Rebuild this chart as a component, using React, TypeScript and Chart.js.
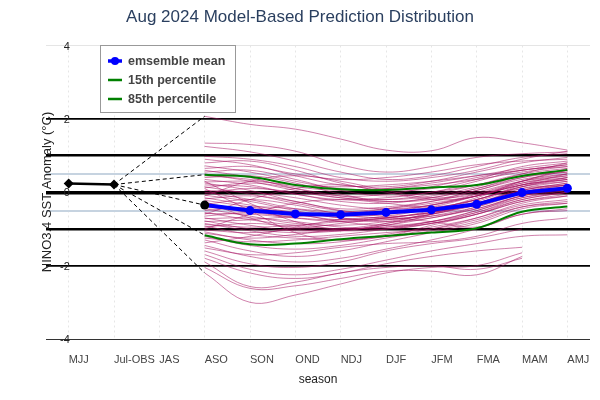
import React, { useEffect, useRef } from "react";
import { Chart, registerables } from "chart.js";

Chart.register(...registerables);

const FONT = "'Liberation Sans', Arial, Helvetica, sans-serif";

const TITLE = "Aug 2024 Model-Based Prediction Distribution";
const X_TITLE = "season";
const Y_TITLE = "NINO3.4 SST Anomaly (°C)";

const seasons = ["MJJ", "Jul-OBS", "JAS", "ASO", "SON", "OND", "NDJ", "DJF", "JFM", "FMA", "MAM", "AMJ"];
const FORECAST_START = 3; // index of ASO in seasons
const OBS_LAST = 1; // index of Jul-OBS

const observed = [0.24, 0.21];
const ensembleMean = [-0.35, -0.5, -0.59, -0.61, -0.55, -0.48, -0.33, -0.01, 0.11];
const pct15 = [-1.17, -1.42, -1.4, -1.28, -1.19, -1.1, -0.98, -0.53, -0.39];
const pct85 = [0.48, 0.42, 0.2, 0.08, 0.06, 0.13, 0.2, 0.44, 0.61];

const yTickLabels = [4, 2, 0, -2, -4];
const blackRefLines = [2, 1, 0, -1, -2];
const lightRefLines = [0.5, -0.5];

// ensemble members: ASO, SON, OND, NDJ, DJF, JFM, FMA, MAM, AMJ
const members: (number | null)[][] = [
  [2.07, 1.85, 1.72, 1.45, 1.15, 1.13, 1.49, 1.35, 1.15],
  [1.34, 1.3, 1.12, 0.75, 0.55, 0.7, 0.95, 1.05, 1.1],
  [1.25, 1.1, 0.85, 0.55, 0.35, 0.45, 0.7, 0.95, 1.05],
  [0.98, 0.9, 0.7, 0.4, 0.3, 0.4, 0.6, 0.9, 1.12],
  [0.9, 0.75, 0.45, 0.2, 0.15, 0.3, 0.55, 0.8, 0.95],
  [0.8, 0.85, 0.6, 0.25, 0.05, 0.1, 0.35, 0.7, 0.85],
  [0.72, 0.55, 0.3, 0.1, 0.1, 0.25, 0.45, 0.65, 0.8],
  [0.65, 0.7, 0.5, 0.35, 0.4, 0.55, 0.75, 0.85, 0.9],
  [0.6, 0.4, 0.1, -0.1, -0.05, 0.15, 0.4, 0.6, 0.75],
  [0.55, 0.6, 0.35, 0.05, -0.1, 0.0, 0.3, 0.6, 0.7],
  [0.5, 0.3, 0.05, -0.15, -0.2, -0.05, 0.2, 0.5, 0.65],
  [0.45, 0.35, 0.15, 0.05, 0.1, 0.2, 0.35, 0.55, 0.7],
  [0.4, 0.45, 0.25, -0.05, -0.25, -0.15, 0.1, 0.45, 0.6],
  [0.35, 0.2, -0.05, -0.2, -0.15, 0.0, 0.2, 0.45, 0.55],
  [0.3, -0.3, -0.8, -1.0, -0.9, -0.6, -0.2, 0.1, 0.2],
  [0.28, 0.3, 0.2, 0.15, 0.2, 0.3, 0.45, 0.6, 0.75],
  [0.25, 0.05, -0.25, -0.45, -0.4, -0.25, 0.0, 0.3, 0.45],
  [0.2, 0.15, -0.05, -0.25, -0.3, -0.15, 0.1, 0.4, 0.55],
  [0.15, -0.05, -0.3, -0.5, -0.55, -0.4, -0.1, 0.25, 0.4],
  [0.12, 0.25, 0.1, -0.1, -0.2, -0.1, 0.15, 0.5, 0.8],
  [0.1, -0.5, -1.1, -1.3, -1.2, -0.9, -0.6, -0.2, 0.0],
  [0.05, 0.0, -0.15, -0.35, -0.45, -0.35, -0.1, 0.2, 0.35],
  [0.0, -0.2, -0.45, -0.6, -0.55, -0.35, -0.05, 0.3, 0.5],
  [-0.03, 0.1, 0.0, -0.15, -0.25, -0.2, 0.05, 0.4, 0.6],
  [-0.08, -0.25, -0.5, -0.7, -0.75, -0.6, -0.3, 0.05, 0.2],
  [-0.1, 0.3, 0.45, 0.3, 0.05, -0.15, -0.05, 0.3, 0.65],
  [-0.15, -0.35, -0.55, -0.65, -0.6, -0.45, -0.2, 0.15, 0.35],
  [-0.18, -0.1, -0.25, -0.5, -0.65, -0.55, -0.3, 0.05, 0.25],
  [-0.22, -0.4, -0.6, -0.75, -0.7, -0.5, -0.15, 0.25, 0.45],
  [-0.25, -0.7, -1.0, -1.05, -0.85, -0.55, -0.25, 0.15, 0.4],
  [-0.3, -0.5, -0.7, -0.8, -0.75, -0.6, -0.35, 0.0, 0.15],
  [-0.33, -0.2, -0.35, -0.6, -0.7, -0.65, -0.45, -0.1, 0.1],
  [-0.38, -0.55, -0.65, -0.6, -0.45, -0.25, 0.05, 0.35, 0.5],
  [-0.42, -0.45, -0.55, -0.7, -0.8, -0.7, -0.4, 0.0, 0.2],
  [-0.45, -0.65, -0.85, -0.9, -0.8, -0.6, -0.3, 0.1, 0.3],
  [-0.5, -0.4, -0.45, -0.55, -0.5, -0.35, -0.1, 0.2, 0.35],
  [-0.55, -0.75, -0.9, -1.0, -0.95, -0.8, -0.5, -0.1, 0.1],
  [-0.58, -0.6, -0.7, -0.75, -0.65, -0.45, -0.2, 0.15, 0.3],
  [-0.6, -0.2, 0.1, 0.2, 0.0, -0.2, -0.1, 0.3, 0.6],
  [-0.65, -0.55, -0.6, -0.8, -0.9, -0.8, -0.55, -0.2, 0.0],
  [-0.7, -0.9, -1.05, -1.0, -0.85, -0.65, -0.4, -0.05, 0.15],
  [-0.72, -0.7, -0.8, -0.95, -1.0, -0.85, -0.55, -0.15, 0.05],
  [-0.78, -1.0, -1.1, -1.05, -0.9, -0.7, -0.45, -0.1, 0.05],
  [-0.8, -0.75, -0.65, -0.55, -0.45, -0.3, -0.1, 0.2, 0.4],
  [-0.85, -1.05, -1.2, -1.15, -1.0, -0.8, -0.5, -0.15, 0.0],
  [-0.88, -0.95, -0.9, -0.8, -0.7, -0.55, -0.35, 0.0, 0.2],
  [-0.92, -1.15, -1.25, -1.3, -1.2, -1.0, -0.7, -0.3, -0.1],
  [-0.95, -0.85, -0.95, -1.05, -1.0, -0.85, -0.6, -0.25, -0.05],
  [-1.0, -0.6, -0.3, -0.2, -0.3, -0.4, -0.2, 0.2, 0.5],
  [-1.03, -1.1, -1.0, -0.85, -0.7, -0.55, -0.3, 0.05, 0.25],
  [-1.08, -1.3, -1.4, -1.35, -1.15, -0.95, -0.7, -0.35, -0.2],
  [-1.12, -1.25, -1.15, -1.0, -0.95, -0.85, -0.6, -0.25, -0.1],
  [-1.2, -1.45, -1.55, -1.45, -1.25, -1.05, -0.8, -0.4, -0.25],
  [-1.25, -1.35, -1.3, -1.2, -1.1, -1.0, -0.75, -0.4, -0.3],
  [-1.3, -1.6, -1.75, -1.6, -1.35, -1.1, -0.85, -0.45, -0.3],
  [-1.38, -1.2, -0.95, -0.75, -0.7, -0.8, -0.95, -0.6, -0.45],
  [-1.45, -1.75, -1.9, -1.8, -1.55, -1.3, -1.0, -0.6, -0.5],
  [-1.52, -1.7, -1.65, -1.5, -1.4, -1.35, -1.2, -0.85, -0.7],
  [-1.6, -1.95, -2.05, -1.9, -1.6, -1.4, -1.25, -1.0, null],
  [-1.7, -2.1, -2.25, -2.1, -1.85, -1.6, -1.4, -1.2, -1.16],
  [-1.8, -2.2, -2.35, -2.2, -1.95, -1.75, -1.6, -1.5, null],
  [-1.9, -2.57, -2.45, -2.2, -2.05, -2.0, -2.1, -1.8, null],
  [-2.05, -2.62, -2.55, -2.35, -2.15, -2.15, -2.25, -1.75, null],
  [-2.2, -3.0, -2.8, -2.5, -2.2, -2.05, -2.0, -1.65, null],
];

const pad = (vals: (number | null)[]) => {
  const arr: (number | null)[] = seasons.map(() => null);
  vals.forEach((v, i) => (arr[FORECAST_START + i] = v));
  return arr;
};

const asoValues = members.map((m) => m[0] as number);
const connectorTargets = [Math.max(...asoValues), pct85[0], ensembleMean[0], pct15[0], Math.min(...asoValues)];

const MEMBER_COLOR = "rgba(165, 15, 95, 0.52)";

function buildDatasets() {
  const ds: any[] = [];
  ds.push({
    label: "emsemble mean",
    data: pad(ensembleMean),
    borderColor: "#0000ff",
    backgroundColor: "#0000ff",
    borderWidth: 4,
    pointRadius: 4.5,
    pointBackgroundColor: seasons.map((_, i) => (i === FORECAST_START ? "#000000" : "#0000ff")),
    pointBorderColor: seasons.map((_, i) => (i === FORECAST_START ? "#000000" : "#0000ff")),
    pointBorderWidth: 0,
    tension: 0,
  });
  ds.push({ label: "15th percentile", data: pad(pct15), borderColor: "#008000", borderWidth: 2, pointRadius: 0, tension: 0.4 });
  ds.push({ label: "85th percentile", data: pad(pct85), borderColor: "#008000", borderWidth: 2, pointRadius: 0, tension: 0.4 });
  ds.push({
    label: "observed",
    data: seasons.map((_, i) => (i < observed.length ? observed[i] : null)),
    borderColor: "#000000",
    backgroundColor: "#000000",
    borderWidth: 2.5,
    pointStyle: "rectRot",
    pointRadius: 5,
    pointBorderWidth: 0,
    tension: 0,
  });
  connectorTargets.forEach((t, k) => {
    const data = seasons.map((_, i) => (i === OBS_LAST ? observed[OBS_LAST] : i === FORECAST_START ? t : null));
    ds.push({
      label: "connector" + k,
      data,
      borderColor: "#000000",
      borderWidth: 1,
      borderDash: [4, 3],
      pointRadius: 0,
      spanGaps: true,
      tension: 0,
    });
  });
  members.forEach((m, k) => {
    ds.push({
      label: "member" + k,
      data: pad(m),
      borderColor: MEMBER_COLOR,
      borderWidth: 1,
      pointRadius: 0,
      tension: 0.4,
    });
  });
  return ds;
}

const legendItems = [
  { text: "emsemble mean", color: "#0000ff", marker: true, width: 3.5 },
  { text: "15th percentile", color: "#008000", marker: false, width: 2.5 },
  { text: "85th percentile", color: "#008000", marker: false, width: 2.5 },
];

const textPlugin = {
  id: "customTexts",
  afterDraw(chart: any) {
    const { ctx, chartArea } = chart;
    ctx.save();
    // title
    ctx.font = `17px ${FONT}`;
    ctx.fillStyle = "#2a3f5f";
    ctx.textAlign = "center";
    ctx.textBaseline = "middle";
    ctx.fillText(TITLE, 300, 17.5);
    // x title
    ctx.font = `12px ${FONT}`;
    ctx.fillStyle = "#222";
    ctx.fillText(X_TITLE, (chartArea.left + chartArea.right) / 2, 380);
    // y title
    ctx.save();
    ctx.font = `13px ${FONT}`;
    ctx.translate(47.5, 192);
    ctx.rotate(-Math.PI / 2);
    ctx.fillText(Y_TITLE, 0, 0);
    ctx.restore();
    // legend
    const bx = 100.5, by = 45.5, bw = 135, bh = 67;
    ctx.fillStyle = "#ffffff";
    ctx.fillRect(bx, by, bw, bh);
    ctx.strokeStyle = "#999999";
    ctx.lineWidth = 1;
    ctx.strokeRect(bx, by, bw, bh);
    ctx.textAlign = "left";
    ctx.font = `bold 12.5px ${FONT}`;
    legendItems.forEach((it, i) => {
      const y = 61 + i * 19;
      ctx.strokeStyle = it.color;
      ctx.lineWidth = it.width;
      ctx.beginPath();
      ctx.moveTo(108, y);
      ctx.lineTo(122, y);
      ctx.stroke();
      if (it.marker) {
        ctx.fillStyle = it.color;
        ctx.beginPath();
        ctx.arc(115, y, 4, 0, Math.PI * 2);
        ctx.fill();
      }
      ctx.fillStyle = "#444";
      ctx.fillText(it.text, 128, y + 0.5);
    });
    ctx.restore();
  },
};

export default function App() {
  const ref = useRef<HTMLCanvasElement>(null);
  useEffect(() => {
    if (!ref.current) return;
    const chart = new Chart(ref.current, {
      type: "line",
      data: { labels: seasons, datasets: buildDatasets() },
      options: {
        animation: false,
        responsive: false,
        devicePixelRatio: 1,
        layout: { padding: { left: 46, right: 10, top: 45.5, bottom: 31 } },
        plugins: { legend: { display: false }, tooltip: { enabled: false }, title: { display: false } },
        scales: {
          x: {
            type: "category",
            offset: true,
            grid: { display: true, offset: false, drawTicks: false, color: "#e6e6e6", lineWidth: 1 },
            border: { display: false, dash: [2, 3] },
            ticks: {
              align: "start",
              autoSkip: false,
              maxRotation: 0,
              minRotation: 0,
              padding: 8,
              color: "#444",
              font: { family: FONT, size: 11, lineHeight: 2.4 },
            },
            afterFit: (s: any) => {
              s.height = 30;
            },
          },
          y: {
            min: -4,
            max: 4,
            grid: {
              drawTicks: false,
              color: (c: any) => {
                const v = c.tick?.value;
                if (v === 4) return "#e5e5e5";
                if (v === -4) return "#333333";
                if (blackRefLines.includes(v)) return "#000000";
                if (lightRefLines.includes(v)) return "#c6d3e0";
                return "rgba(0,0,0,0)";
              },
              lineWidth: (c: any) => {
                const v = c.tick?.value;
                if (v === 0) return 3.5;
                if (v === 1 || v === -1) return 2.5;
                if (v === 2 || v === -2) return 1.8;
                if (lightRefLines.includes(v)) return 2;
                return 1;
              },
            },
            border: { display: false },
            ticks: {
              stepSize: 0.5,
              mirror: true,
              crossAlign: "far",
              padding: 14,
              labelOffset: 1,
              color: "#222",
              font: { family: FONT, size: 11 },
              callback: (v: any) => (yTickLabels.includes(v) ? String(v) : ""),
            },
            afterFit: (s: any) => {
              s.width = 0;
            },
          },
        },
      } as any,
      plugins: [textPlugin],
    });
    return () => chart.destroy();
  }, []);
  return (
    <div style={{ position: "absolute", left: 0, top: 0, width: 600, height: 400, background: "#fff" }}>
      <canvas ref={ref} width={600} height={400} style={{ display: "block", width: 600, height: 400 }} />
    </div>
  );
}
